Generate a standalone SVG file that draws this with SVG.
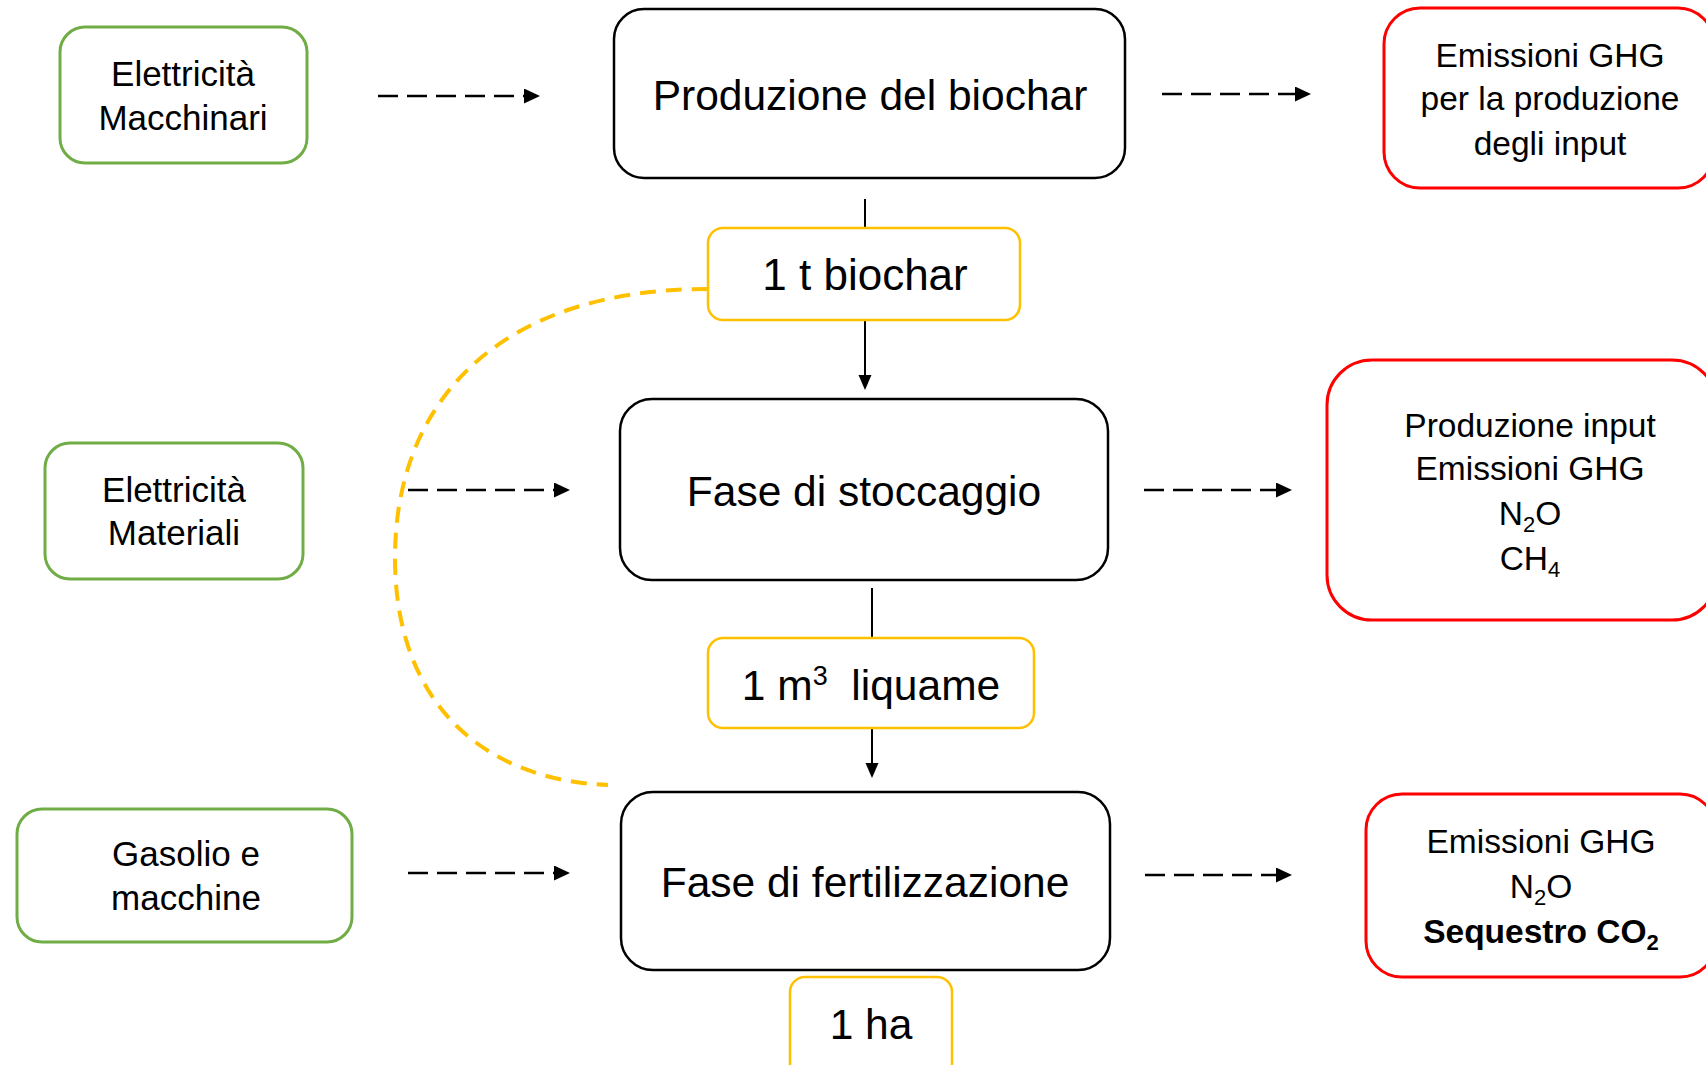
<svg xmlns="http://www.w3.org/2000/svg" width="1706" height="1065" viewBox="0 0 1706 1065">
<style>
text{font-family:"Liberation Sans",Arial,sans-serif;fill:#000;text-anchor:middle}
.big{font-size:42.5px}
.sm{font-size:33.5px}
.gt{font-size:35px}
.main{fill:#fff;stroke:#000;stroke-width:2.5}
.green{fill:#fff;stroke:#70AD47;stroke-width:3}
.yellow{fill:#fff;stroke:#FFC000;stroke-width:2.5}
.red{fill:#fff;stroke:#FF0000;stroke-width:3}
.dash{stroke:#000;stroke-width:2.5;stroke-dasharray:20 9;fill:none}
.solid{stroke:#000;stroke-width:2;fill:none}
.curve{stroke:#FFC000;stroke-width:4;stroke-dasharray:16 10;fill:none}
</style>
<defs>
<marker id="ah" markerUnits="userSpaceOnUse" markerWidth="16" markerHeight="16" refX="0" refY="7.5" orient="auto">
<path d="M0,0 L16,7.5 L0,15 z" fill="#000"/>
</marker>
<marker id="ahs" markerUnits="userSpaceOnUse" markerWidth="16" markerHeight="14" refX="0" refY="6.5" orient="auto">
<path d="M0,0 L15,6.5 L0,13 z" fill="#000"/>
</marker>
</defs>
<rect width="1706" height="1065" fill="#fff"/>
<g id="connectors">
<line class="dash" x1="378" y1="96" x2="524" y2="96" marker-end="url(#ah)"/>
<line class="dash" x1="1162" y1="94" x2="1295" y2="94" marker-end="url(#ah)"/>
<line class="dash" x1="408" y1="490" x2="554" y2="490" marker-end="url(#ah)"/>
<line class="dash" x1="1144" y1="490" x2="1276" y2="490" marker-end="url(#ah)"/>
<line class="dash" x1="408" y1="873" x2="554" y2="873" marker-end="url(#ah)"/>
<line class="dash" x1="1145" y1="875" x2="1276" y2="875" marker-end="url(#ah)"/>
<line class="solid" x1="865" y1="199" x2="865" y2="375" marker-end="url(#ahs)"/>
<line class="solid" x1="872" y1="588" x2="872" y2="763" marker-end="url(#ahs)"/>
<path class="curve" d="M708,289 C500,289 395,400 395,558 C395,700 480,780 608,785"/>
</g>
<g id="n-elettricita-macchinari">
<rect class="green" x="60" y="27" width="247" height="136" rx="25"/>
<text class="gt" x="183" y="86">Elettricità</text>
<text class="gt" x="183" y="130">Macchinari</text>
</g>
<g id="n-produzione-biochar">
<rect class="main" x="614" y="9" width="511" height="169" rx="30"/>
<text class="big" x="870" y="110" font-size="43.5">Produzione del biochar</text>
</g>
<g id="n-emissioni-input">
<rect class="red" x="1384" y="8" width="330" height="180" rx="36"/>
<text class="sm" x="1550" y="67">Emissioni GHG</text>
<text class="sm" x="1550" y="110">per la produzione</text>
<text class="sm" x="1550" y="155">degli input</text>
</g>
<g id="n-1t-biochar">
<rect class="yellow" x="708" y="228" width="312" height="92" rx="15"/>
<text class="big" x="865" y="290" style="font-size:44px">1 t biochar</text>
</g>
<g id="n-elettricita-materiali">
<rect class="green" x="45" y="443" width="258" height="136" rx="25"/>
<text class="gt" x="174" y="502">Elettricità</text>
<text class="gt" x="174" y="545">Materiali</text>
</g>
<g id="n-stoccaggio">
<rect class="main" x="620" y="399" width="488" height="181" rx="32"/>
<text class="big" x="864" y="506">Fase di stoccaggio</text>
</g>
<g id="n-emissioni-stoccaggio">
<rect class="red" x="1327" y="360" width="390" height="260" rx="45"/>
<text class="sm" x="1530" y="437">Produzione input</text>
<text class="sm" x="1530" y="480">Emissioni GHG</text>
<text class="sm" x="1530" y="525">N<tspan dy="7" font-size="22">2</tspan><tspan dy="-7">O</tspan></text>
<text class="sm" x="1530" y="570">CH<tspan dy="7" font-size="22">4</tspan></text>
</g>
<g id="n-1m3-liquame">
<rect class="yellow" x="708" y="638" width="326" height="90" rx="15"/>
<text class="big" x="871" y="700" style="white-space:pre">1 m<tspan dy="-15" font-size="27">3</tspan><tspan dy="15">  liquame</tspan></text>
</g>
<g id="n-gasolio-macchine">
<rect class="green" x="17" y="809" width="335" height="133" rx="25"/>
<text class="gt" x="186" y="866">Gasolio e</text>
<text class="gt" x="186" y="910">macchine</text>
</g>
<g id="n-fertilizzazione">
<rect class="main" x="621" y="792" width="489" height="178" rx="32"/>
<text class="big" x="865" y="897">Fase di fertilizzazione</text>
</g>
<g id="n-emissioni-fertilizzazione">
<rect class="red" x="1366" y="794" width="350" height="183" rx="36"/>
<text class="sm" x="1541" y="853">Emissioni GHG</text>
<text class="sm" x="1541" y="898">N<tspan dy="7" font-size="22">2</tspan><tspan dy="-7">O</tspan></text>
<text class="sm" x="1541" y="943" font-weight="bold">Sequestro CO<tspan dy="7" font-size="22">2</tspan></text>
</g>
<g id="n-1ha">
<rect class="yellow" x="790" y="977" width="162" height="110" rx="15"/>
<text class="big" x="871" y="1039">1 ha</text>
</g>
</svg>
